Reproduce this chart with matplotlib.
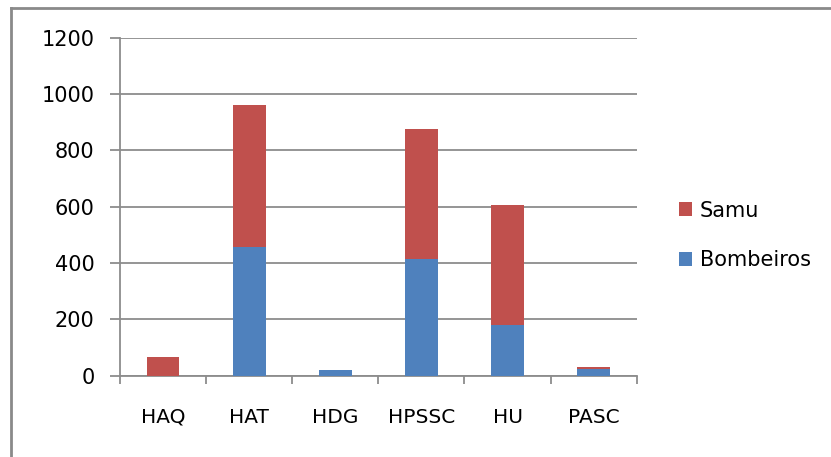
import matplotlib
matplotlib.use("Agg")
import matplotlib.pyplot as plt
from matplotlib.lines import Line2D

# dados por unidade
unidades = ["HAQ", "HAT", "HDG", "HPSSC", "HU", "PASC"]
bombeiros = [0, 456, 20, 414, 180, 24]
samu = [67, 504, 0, 461, 425, 8]

AZUL = "#4F81BD"
VERMELHO = "#C0504D"
CINZA = "#8C8C8C"

fig = plt.figure(figsize=(8.31, 4.57), dpi=100)
ax = fig.add_axes([120 / 831, 81.3 / 457, 516.7 / 831, 338.2 / 457])

x = list(range(len(unidades)))
ax.bar(x, bombeiros, width=0.38, color=AZUL, label="Bombeiros", zorder=3)
ax.bar(x, samu, width=0.38, bottom=bombeiros, color=VERMELHO, label="Samu", zorder=3)

ax.set_xlim(-0.5, len(unidades) - 0.5)
ax.set_ylim(0, 1200)
ax.set_yticks(range(0, 1201, 200))
ax.yaxis.grid(True, color=CINZA, linewidth=1.3, zorder=0)
ax.set_axisbelow(True)

for lado in ["top", "right"]:
    ax.spines[lado].set_visible(False)
for lado in ["left", "bottom"]:
    ax.spines[lado].set_color(CINZA)
    ax.spines[lado].set_linewidth(1.3)

ax.tick_params(axis="y", length=7.2, width=1.3, color=CINZA, pad=11, labelsize=15)

# marcas nas divisas entre categorias, rótulos no centro
ax.set_xticks([i - 0.5 for i in range(len(unidades) + 1)])
ax.set_xticklabels([])
ax.tick_params(axis="x", which="major", length=5.8, width=1.3, color=CINZA)
ax.set_xticks(x, minor=True)
ax.set_xticklabels(unidades, minor=True, fontsize=14.5)
ax.tick_params(axis="x", which="minor", length=0, pad=23)

handles, labels = ax.get_legend_handles_labels()
leg = ax.legend(handles[::-1], labels[::-1], loc="center left",
                bbox_to_anchor=(1.045, 0.415), frameon=False, fontsize=15,
                handlelength=0.65, handleheight=0.65, handletextpad=0.35,
                labelspacing=1.4)

# moldura do gráfico (topo e esquerda)
fig.add_artist(Line2D([11 / 831, 1.0], [1 - 8 / 457, 1 - 8 / 457],
                      transform=fig.transFigure, color="#8A8A8A", linewidth=2))
fig.add_artist(Line2D([11 / 831, 11 / 831], [0, 1 - 8 / 457],
                      transform=fig.transFigure, color="#8A8A8A", linewidth=2))

fig.savefig("out.png", dpi=100)
